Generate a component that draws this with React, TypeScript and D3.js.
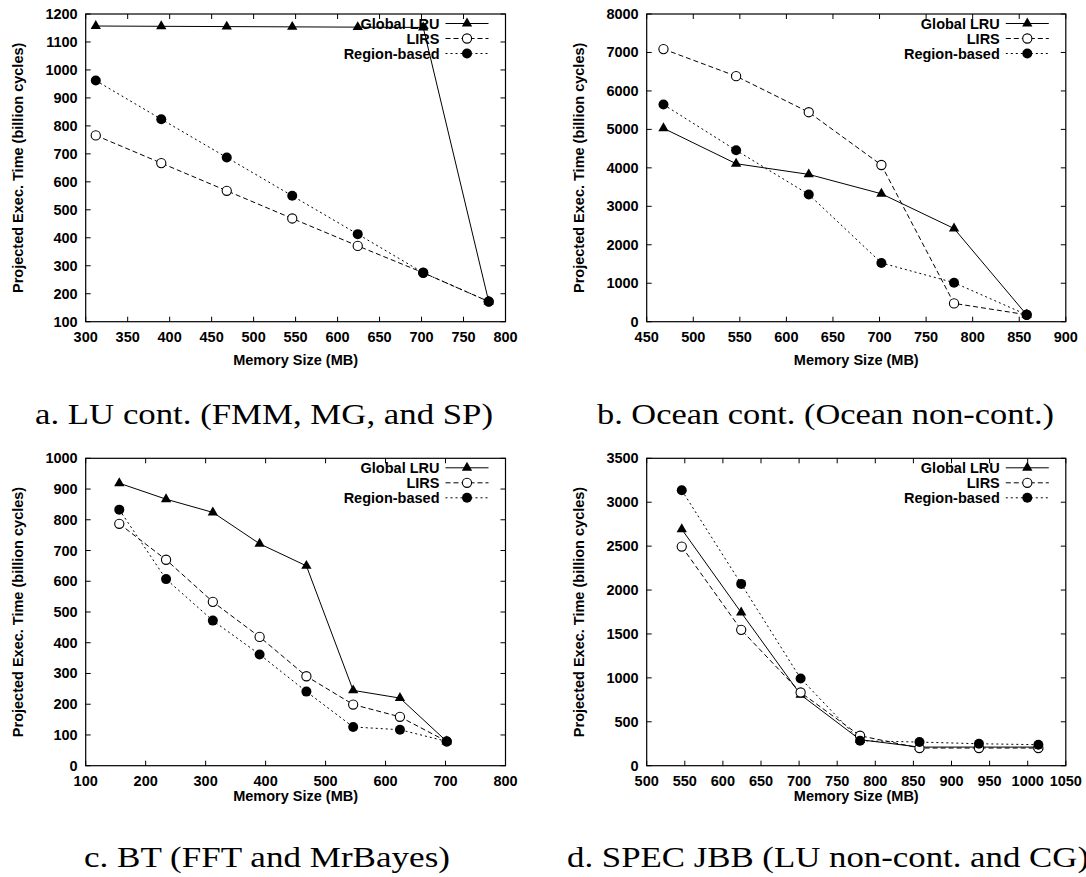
import React from "react";
import * as d3 from "d3";

// ---------- DATA ----------
const seriesNames = ["Global LRU", "LIRS", "Region-based"];

const memA = [312, 390, 468, 546, 624, 702, 780];
const lruA = [1157, 1156, 1155, 1154, 1153, 1152, 172];
const lirsA = [766, 667, 568, 469, 371, 275, 172];
const regionA = [962, 824, 687, 550, 413, 275, 172];

const memB = [468, 546, 624, 702, 780, 858];
const lruB = [5029, 4108, 3830, 3326, 2423, 180];
const lirsB = [7088, 6384, 5446, 4074, 476, 181];
const regionB = [5646, 4456, 3309, 1528, 1015, 180];

const memC = [156, 234, 312, 390, 468, 546, 624, 702];
const lruC = [919, 867, 824, 722, 650, 245, 220, 79];
const lirsC = [787, 670, 533, 419, 291, 199, 159, 79];
const regionC = [833, 607, 472, 362, 241, 126, 117, 79];

const memD = [546, 624, 702, 780, 858, 936, 1014];
const lruD = [2692, 1744, 808, 296, 212, 212, 212];
const lirsD = [2495, 1547, 834, 341, 201, 201, 201];
const regionD = [3136, 2070, 993, 284, 269, 250, 239];

const xTicksA = d3.range(300, 801, 50);
const yTicksA = d3.range(100, 1201, 100);
const xTicksB = d3.range(450, 901, 50);
const yTicksB = d3.range(0, 8001, 1000);
const xTicksC = d3.range(100, 801, 100);
const yTicksC = d3.range(0, 1001, 100);
const xTicksD = d3.range(500, 1051, 50);
const yTicksD = d3.range(0, 3501, 500);

const captions = [
  "a. LU cont. (FMM, MG, and SP)",
  "b. Ocean cont. (Ocean non-cont.)",
  "c. BT (FFT and MrBayes)",
  "d. SPEC JBB (LU non-cont. and CG)",
];

const xTitle = "Memory Size (MB)";
const yTitle = "Projected Exec. Time (billion cycles)";

// ---------- LAYOUT ----------
const panels = [
  { mem: memA, vals: [lruA, lirsA, regionA], xd: [300, 800], yd: [100, 1200], xt: xTicksA, yt: yTicksA,
    left: 85.7, right: 505.5, top: 14, bottom: 321.7, xtitleY: 364.5, capY: 424, capX0: 35, capW: 458 },
  { mem: memB, vals: [lruB, lirsB, regionB], xd: [450, 900], yd: [0, 8000], xt: xTicksB, yt: yTicksB,
    left: 646.7, right: 1065.8, top: 14, bottom: 321.7, xtitleY: 364.5, capY: 424, capX0: 597, capW: 457 },
  { mem: memC, vals: [lruC, lirsC, regionC], xd: [100, 800], yd: [0, 1000], xt: xTicksC, yt: yTicksC,
    left: 85.7, right: 505.5, top: 458.3, bottom: 765.7, xtitleY: 801, capY: 867, capX0: 84, capW: 366 },
  { mem: memD, vals: [lruD, lirsD, regionD], xd: [500, 1050], yd: [0, 3500], xt: xTicksD, yt: yTicksD,
    left: 646.7, right: 1065.8, top: 458.3, bottom: 765.7, xtitleY: 801, capY: 867, capX0: 567, capW: 522 },
];

const dashes = [null, "5,3", "2,3"];
const sansFont = "'Liberation Sans', Arial, Helvetica, sans-serif";
const serifFont = "'Liberation Serif', 'Times New Roman', serif";
const triPath = d3.symbol().type(d3.symbolTriangle).size(46)() as string;

function Marker({ kind, x, y }: { kind: number; x: number; y: number }) {
  if (kind === 0) return <path d={triPath} transform={`translate(${x},${y})`} fill="#000" />;
  if (kind === 1) return <circle cx={x} cy={y} r={4.6} fill="#fff" stroke="#000" strokeWidth={1.1} />;
  return <circle cx={x} cy={y} r={5} fill="#000" />;
}

function Panel({ p, idx }: { p: typeof panels[number]; idx: number }) {
  const x = d3.scaleLinear().domain(p.xd).range([p.left, p.right]);
  const y = d3.scaleLinear().domain(p.yd).range([p.bottom, p.top]);
  const line = d3.line<number>().x((_, i) => x(p.mem[i])).y((v) => y(v));
  const tick = 5;
  const midY = (p.top + p.bottom) / 2;
  return (
    <g>
      {p.xt.map((t) => (
        <g key={"xt" + t}>
          <line x1={x(t)} x2={x(t)} y1={p.bottom} y2={p.bottom - tick} stroke="#000" />
          <line x1={x(t)} x2={x(t)} y1={p.top} y2={p.top + tick} stroke="#000" />
          <text x={x(t)} y={p.bottom + 20} textAnchor="middle" fontFamily={sansFont} fontWeight="bold" fontSize={14.5}>{t}</text>
        </g>
      ))}
      {p.yt.map((t) => (
        <g key={"yt" + t}>
          <line x1={p.left} x2={p.left + tick} y1={y(t)} y2={y(t)} stroke="#000" />
          <line x1={p.right} x2={p.right - tick} y1={y(t)} y2={y(t)} stroke="#000" />
          <text x={p.left - 8} y={y(t) + 5} textAnchor="end" fontFamily={sansFont} fontWeight="bold" fontSize={14.5}>{t}</text>
        </g>
      ))}
      <rect x={p.left} y={p.top} width={p.right - p.left} height={p.bottom - p.top} fill="none" stroke="#000" strokeWidth={1.2} />
      <text x={(p.left + p.right) / 2} y={p.xtitleY} textAnchor="middle" fontFamily={sansFont} fontWeight="bold" fontSize={14.5}>{xTitle}</text>
      <text transform={`translate(${p.left - 63},${midY}) rotate(-90)`} textAnchor="middle" fontFamily={sansFont} fontWeight="bold" fontSize={14.5}>{yTitle}</text>
      {p.vals.map((vals, si) => (
        <g key={"s" + si}>
          <path d={line(vals) as string} fill="none" stroke="#000" strokeWidth={1} strokeDasharray={dashes[si] ?? undefined} />
          {vals.map((v, i) => <Marker key={i} kind={si} x={x(p.mem[i])} y={y(v)} />)}
        </g>
      ))}
      {seriesNames.map((name, si) => {
        const ly = p.top + 9.5 + si * 15;
        return (
          <g key={"lg" + si}>
            <text x={p.right - 66} y={ly + 5} textAnchor="end" fontFamily={sansFont} fontWeight="bold" fontSize={14.5}>{name}</text>
            <line x1={p.right - 60} x2={p.right - 17} y1={ly} y2={ly} stroke="#000" strokeWidth={1} strokeDasharray={dashes[si] ?? undefined} />
            <Marker kind={si} x={p.right - 38.5} y={ly} />
          </g>
        );
      })}
      <text x={p.capX0} y={p.capY} textLength={p.capW} lengthAdjust="spacingAndGlyphs" fontFamily={serifFont} fontSize={30}>{captions[idx]}</text>
    </g>
  );
}

export default function App() {
  return (
    <svg width={1086} height={877} style={{ position: "absolute", left: 0, top: 0, background: "#fff" }}>
      <rect width={1086} height={877} fill="#fff" />
      {panels.map((p, i) => <Panel key={i} p={p} idx={i} />)}
    </svg>
  );
}
